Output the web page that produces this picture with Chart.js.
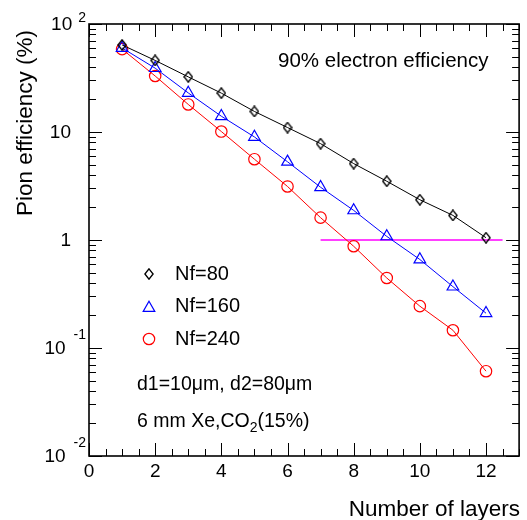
<!DOCTYPE html>
<html>
<head>
<meta charset="utf-8">
<title>Pion efficiency vs number of layers</title>
<script src="https://cdn.jsdelivr.net/npm/chart.js@4/dist/chart.umd.min.js"></script>
<style>
  html, body { margin: 0; padding: 0; background: #fff; }
  #wrap { width: 527px; height: 520px; position: relative; }
</style>
</head>
<body>
<div id="wrap"><canvas id="pionChart"></canvas></div>
<script>
/* ── DATA ─────────────────────────────────────── */
const LAYERS = [1, 2, 3, 4, 5, 6, 7, 8, 9, 10, 11, 12];
const NF80   = [64, 46, 32.4, 22.9, 15.5, 11.0, 7.8, 5.1, 3.5, 2.36, 1.69, 1.05];
const NF160  = [60, 39, 23, 14, 9.0, 5.3, 3.08, 1.88, 1.08, 0.66, 0.37, 0.21];
const NF240  = [58.5, 33, 18, 10.1, 5.6, 3.13, 1.61, 0.875, 0.445, 0.244, 0.146, 0.061];

// 1% reference line
const CUT_X = [7, 12.5];
const CUT_Y = [1, 1];

const X_TICKS     = [0, 2, 4, 6, 8, 10, 12];
const Y_TICKS     = [100, 10, 1, 0.1, 0.01];
const Y_TICK_BASE = ['10', '10', '1', '10', '10'];
const Y_TICK_EXP  = ['2', '', '', '-1', '-2'];

/* ── STYLE ────────────────────────────────────── */
const FONT = '"Liberation Sans", Arial, Helvetica, sans-serif';
const font = px => px + 'px ' + FONT;

const X_MIN = 0, X_MAX = 13, X_MINOR = 0.5, X_MAJOR = 2;
const Y_MIN = 0.01, Y_MAX = 100;
const MAJOR_LEN = 13, MINOR_LEN = 7;

const pts = (xs, ys) => xs.map((v, i) => ({ x: v, y: ys[i] }));

// open diamond, taller than wide
function diamondImage() {
  const c = document.createElement('canvas');
  c.width = 10; c.height = 12;
  const g = c.getContext('2d');
  g.strokeStyle = '#000';
  g.lineWidth = 1.35;
  g.beginPath();
  g.moveTo(5, 0.8); g.lineTo(9.1, 6); g.lineTo(5, 11.2); g.lineTo(0.9, 6);
  g.closePath();
  g.stroke();
  return c;
}
const DIAMOND = diamondImage();

/* ── LEGEND / TEXT HELPERS ────────────────────── */
function drawTriangle(ctx, x, y, r, color) {
  ctx.beginPath();
  ctx.moveTo(x, y - r);
  ctx.lineTo(x + r * Math.sin(Math.PI / 3), y + r * 0.5);
  ctx.lineTo(x - r * Math.sin(Math.PI / 3), y + r * 0.5);
  ctx.closePath();
  ctx.strokeStyle = color; ctx.lineWidth = 1.2; ctx.stroke();
}
function drawCircle(ctx, x, y, r, color) {
  ctx.beginPath();
  ctx.arc(x, y, r, 0, Math.PI * 2);
  ctx.strokeStyle = color; ctx.lineWidth = 1.2; ctx.stroke();
}

const rootFrame = {
  id: 'rootFrame',
  afterDraw(chart) {
    const { ctx, chartArea: a, scales: { x, y } } = chart;
    ctx.save();

    // tick marks, drawn inward on all four sides
    ctx.strokeStyle = '#000';
    ctx.lineWidth = 1;
    ctx.beginPath();
    for (let v = X_MIN; v <= X_MAX + 1e-9; v += X_MINOR) {
      const px = Math.round(x.getPixelForValue(v)) + 0.5;
      const len = Math.abs(v / X_MAJOR - Math.round(v / X_MAJOR)) < 1e-9 ? MAJOR_LEN : MINOR_LEN;
      ctx.moveTo(px, a.bottom); ctx.lineTo(px, a.bottom - len);
      ctx.moveTo(px, a.top);    ctx.lineTo(px, a.top + len);
    }
    for (let e = -2; e <= 2; e++) {
      for (let m = 1; m <= 9; m++) {
        const v = m * Math.pow(10, e);
        if (v > Y_MAX * 1.0001) break;
        const py = Math.round(y.getPixelForValue(v)) + 0.5;
        const len = m === 1 ? MAJOR_LEN : MINOR_LEN;
        ctx.moveTo(a.left, py);  ctx.lineTo(a.left + len, py);
        ctx.moveTo(a.right, py); ctx.lineTo(a.right - len, py);
      }
    }
    ctx.stroke();

    // frame
    ctx.lineWidth = 1.6;
    ctx.strokeRect(a.left, a.top, a.right - a.left, a.bottom - a.top);

    ctx.fillStyle = '#000';
    ctx.textBaseline = 'middle';

    // x tick labels
    ctx.font = font(19);
    ctx.textAlign = 'center';
    X_TICKS.forEach(v => ctx.fillText(String(v), x.getPixelForValue(v), a.bottom + 16));

    // y tick labels, 10 with raised exponent
    Y_TICKS.forEach((v, i) => {
      const py = y.getPixelForValue(v);
      const base = Y_TICK_BASE[i], exp = Y_TICK_EXP[i];
      if (!exp) {
        ctx.font = font(19); ctx.textAlign = 'right';
        ctx.fillText(base, a.left - 18, py + 1);
        return;
      }
      ctx.font = font(14); ctx.textAlign = 'right';
      const neg = exp.startsWith('-');
      const ew = ctx.measureText(exp).width;
      ctx.fillText(exp, a.left - 3, py + (neg ? -13 : -5.5));
      ctx.font = font(19);
      ctx.fillText(base, a.left - 3 - ew - (neg ? 8 : 6), py + 1);
    });

    // axis titles
    ctx.font = font(22.5);
    ctx.textAlign = 'right';
    ctx.textBaseline = 'alphabetic';
    ctx.fillText('Number of layers', 520, 516);
    ctx.save();
    ctx.translate(32, 30);
    ctx.rotate(-Math.PI / 2);
    ctx.fillText('Pion efficiency (%)', 0, 0);
    ctx.restore();

    // annotations
    ctx.textAlign = 'left';
    ctx.textBaseline = 'middle';
    ctx.font = font(20.5);
    ctx.fillText('90% electron efficiency', 278, 61);

    // legend
    ctx.drawImage(DIAMOND, 149 - DIAMOND.width / 2, 274 - DIAMOND.height / 2);
    drawTriangle(ctx, 149, 308, 6.7, '#0000ff');
    drawCircle(ctx, 149, 339, 5.7, '#ff0000');
    ctx.fillStyle = '#000';
    ctx.font = font(20);
    ctx.fillText('Nf=80', 175, 274);
    ctx.fillText('Nf=160', 175, 306.5);
    ctx.fillText('Nf=240', 175, 339);

    ctx.font = font(19.5);
    ctx.fillText('d1=10\u03bcm, d2=80\u03bcm', 137, 385);
    let tx = 137;
    const seg = (s, px, dy) => { ctx.font = font(px); ctx.fillText(s, tx, 421.5 + dy); tx += ctx.measureText(s).width; };
    seg('6 mm Xe,CO', 19.5, 0);
    seg('2', 14, 6.5);
    seg('(15%)', 19.5, 0);

    ctx.restore();
  }
};

/* ── CHART ────────────────────────────────────── */
new Chart(document.getElementById('pionChart'), {
  type: 'line',
  data: {
    datasets: [
      {
        label: 'Nf=80', data: pts(LAYERS, NF80),
        borderColor: '#000', borderWidth: 1,
        pointStyle: DIAMOND, pointRadius: 5
      },
      {
        label: 'Nf=160', data: pts(LAYERS, NF160),
        borderColor: '#0000ff', borderWidth: 1,
        pointStyle: 'triangle', pointRadius: 6.7, pointBorderWidth: 1.2,
        pointBackgroundColor: 'rgba(0,0,0,0)', pointBorderColor: '#0000ff'
      },
      {
        label: 'Nf=240', data: pts(LAYERS, NF240),
        borderColor: '#ff0000', borderWidth: 1,
        pointStyle: 'circle', pointRadius: 5.7, pointBorderWidth: 1.2,
        pointBackgroundColor: 'rgba(0,0,0,0)', pointBorderColor: '#ff0000'
      },
      {
        label: '1%', data: pts(CUT_X, CUT_Y),
        borderColor: '#ff00ff', borderWidth: 1.5, pointRadius: 0
      }
    ]
  },
  options: {
    responsive: true,
    maintainAspectRatio: false,
    animation: false,
    events: [],
    layout: { padding: { left: 89, top: 24, right: 7, bottom: 64 } },
    elements: { line: { tension: 0 } },
    plugins: { legend: { display: false }, tooltip: { enabled: false } },
    scales: {
      x: { type: 'linear', min: X_MIN, max: X_MAX, display: false },
      y: { type: 'logarithmic', min: Y_MIN, max: Y_MAX, display: false }
    }
  },
  plugins: [rootFrame]
});
</script>
</body>
</html>
